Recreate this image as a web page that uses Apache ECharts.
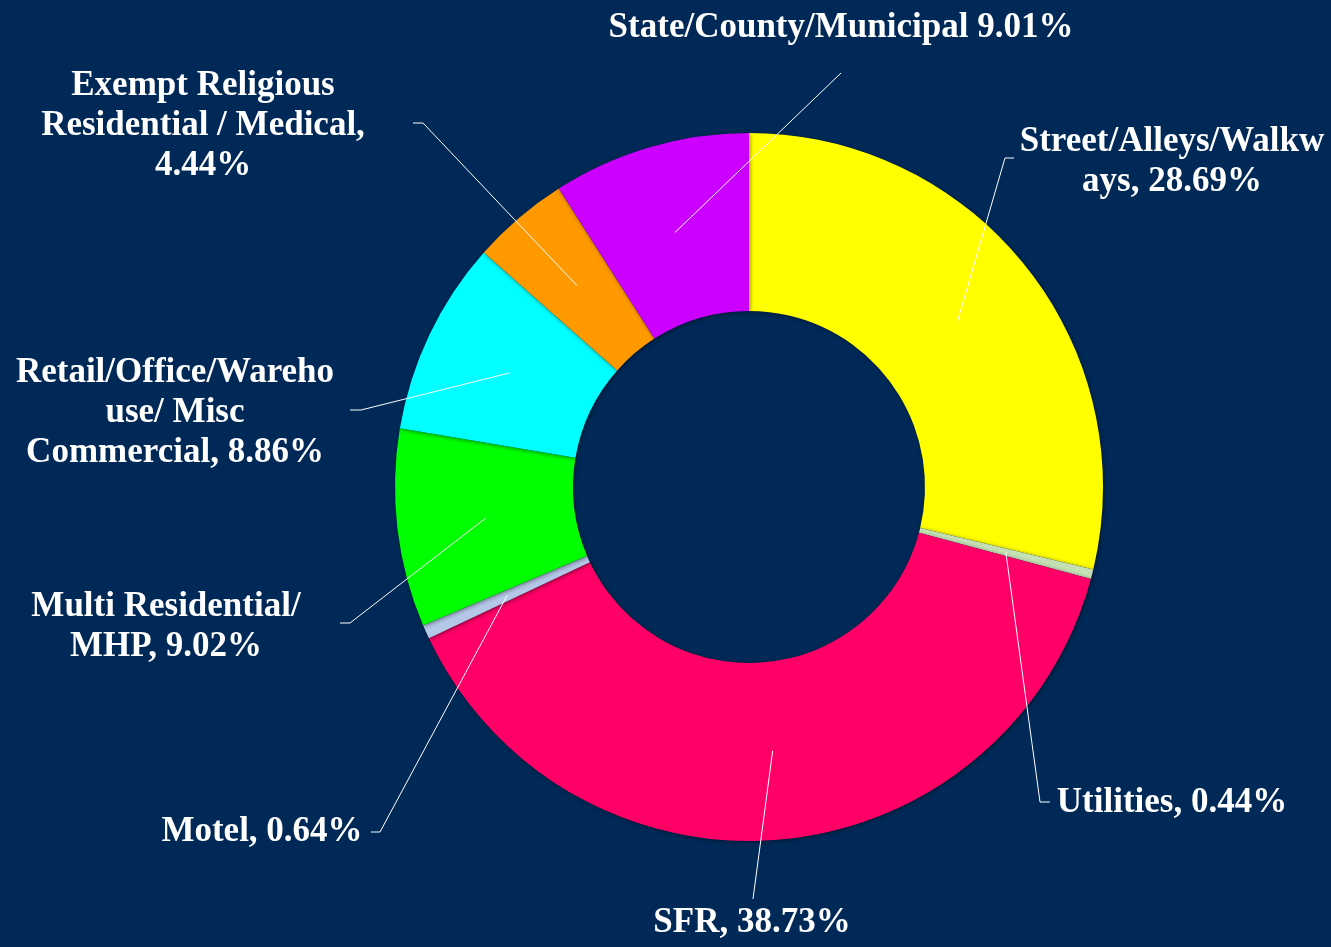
<!DOCTYPE html>
<html>
<head>
<meta charset="utf-8">
<title>Land use share</title>
<script src="https://cdn.jsdelivr.net/npm/echarts@6/dist/echarts.min.js"></script>
<style>
  html, body { margin: 0; padding: 0; background: #002957; }
  #chart { width: 1331px; height: 947px; }
</style>
</head>
<body>
<div id="chart"></div>
<script>
// Categories, clockwise from 12 o'clock
const categories = [
  'Street/Alleys/Walkways',
  'Utilities',
  'SFR',
  'Motel',
  'Multi Residential/ MHP',
  'Retail/Office/Warehouse/ Misc Commercial',
  'Exempt Religious Residential / Medical',
  'State/County/Municipal'
];

// Share of each category, in percent
const shares = [28.69, 0.44, 38.73, 0.64, 9.02, 8.86, 4.44, 9.01];

// Label text shown before the percentage (with its line breaks)
const labelPrefixes = [
  'Street/Alleys/Walkw\nays, ',
  'Utilities, ',
  'SFR, ',
  'Motel, ',
  'Multi Residential/\nMHP, ',
  'Retail/Office/Wareho\nuse/ Misc\nCommercial, ',
  'Exempt Religious\nResidential / Medical,\n',
  'State/County/Municipal '
];

const colors = ['#FFFF00', '#C5E0B4', '#FF0066', '#B4C7E7', '#00FF00', '#00FFFF', '#FF9900', '#CC00FF'];

// Label placement: text centre, leader-line elbow and leader-line end (px)
const labelPlacement = [
  { at: [1172, 162], elbow: [1005, 158], end: [1014, 158] },
  { at: [1172, 803], elbow: [1040, 802], end: [1050, 802] },
  { at: [752, 923],  elbow: [753, 899],  end: [753, 899] },
  { at: [262, 832],  elbow: [380, 832],  end: [371, 832] },
  { at: [166, 627],  elbow: [350, 623],  end: [340, 623] },
  { at: [175, 413],  elbow: [361, 410],  end: [350, 410] },
  { at: [203, 126],  elbow: [423, 123],  end: [413, 123] },
  { at: [841, 28],   elbow: [841, 73],   end: [841, 73] }
];

const CENTER = [749, 487];
const RADIUS = [176, 354];

const chart = echarts.init(document.getElementById('chart'));

// Leader lines start in the middle of the ring at the slice's mid angle
function ringMidPoint(seriesIndex, dataIndex) {
  const data = chart.getModel().getSeriesByIndex(seriesIndex).getData();
  const l = data.getItemLayout(dataIndex);
  const a = (l.startAngle + l.endAngle) / 2;
  const r = (l.r + l.r0) / 2;
  return [l.cx + r * Math.cos(a), l.cy + r * Math.sin(a)];
}

const pieData = categories.map((name, i) => ({ name: name, value: shares[i] }));

chart.setOption({
  backgroundColor: '#002957',
  animation: false,
  series: [
    {
      // coloured ring
      type: 'pie',
      z: 2,
      center: CENTER,
      radius: RADIUS,
      startAngle: 90,
      clockwise: true,
      silent: true,
      data: pieData.map((d, i) => ({ ...d, itemStyle: { color: colors[i] } })),
      itemStyle: {
        borderWidth: 0,
        shadowBlur: 4,
        shadowColor: 'rgba(0, 0, 0, 0.45)',
        shadowOffsetX: 1,
        shadowOffsetY: 1
      },
      label: { show: false },
      labelLine: { show: false }
    },
    {
      // labels and leader lines, drawn above the ring
      type: 'pie',
      z: 5,
      center: CENTER,
      radius: RADIUS,
      startAngle: 90,
      clockwise: true,
      silent: true,
      avoidLabelOverlap: false,
      data: pieData,
      itemStyle: { color: 'rgba(0,0,0,0)', borderWidth: 0 },
      label: {
        show: true,
        position: 'outside',
        color: '#FFFFFF',
        fontFamily: '"Liberation Serif", "Times New Roman", serif',
        fontWeight: 'bold',
        fontSize: 35,
        lineHeight: 40,
        align: 'center',
        formatter: p => labelPrefixes[p.dataIndex] + shares[p.dataIndex].toFixed(2) + '%'
      },
      labelLine: {
        show: true,
        lineStyle: { color: '#FFFFFF', width: 1 }
      },
      labelLayout: function (params) {
        const pl = labelPlacement[params.dataIndex];
        return {
          x: pl.at[0],
          y: pl.at[1],
          align: 'center',
          verticalAlign: 'middle',
          labelLinePoints: [ringMidPoint(params.seriesIndex, params.dataIndex), pl.elbow, pl.end]
        };
      },
      emphasis: { disabled: true }
    }
  ]
});
</script>
</body>
</html>
